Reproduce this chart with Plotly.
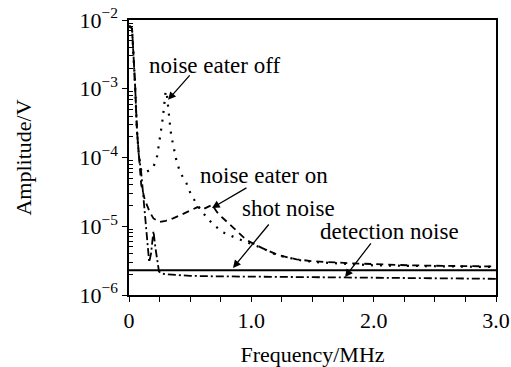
import math
import plotly.graph_objects as go

# ---- data ----
f_off = [0, 0.01, 0.025, 0.04, 0.05, 0.065, 0.08, 0.1, 0.13, 0.17, 0.2, 0.23, 0.245, 0.26, 0.27,
         0.28, 0.29, 0.30, 0.31, 0.32, 0.335, 0.345, 0.36, 0.37, 0.39, 0.42, 0.47, 0.51, 0.6, 0.68,
         0.76, 0.87, 0.96, 1.09, 1.21, 1.4, 1.54, 1.8, 2.0, 2.3, 2.6, 3.0]
v_off = [8e-3, 8e-3, 7.5e-3, 2.6e-3, 1.1e-3, 2.5e-4, 1.1e-4, 6.5e-5, 6.0e-5, 6.6e-5, 7.3e-5, 1.05e-4,
         1.5e-4, 2.2e-4, 3.1e-4, 4.3e-4, 6.2e-4, 9.3e-4, 8e-4, 5.8e-4, 3e-4, 2.1e-4, 1.5e-4, 1.2e-4,
         8.6e-5, 6e-5, 4.2e-5, 2.8e-5, 1.6e-5, 1.1e-5, 8.3e-6, 6.8e-6, 5.9e-6, 4.8e-6, 3.8e-6, 3.2e-6,
         3.0e-6, 2.8e-6, 2.7e-6, 2.65e-6, 2.6e-6, 2.55e-6]

f_on = [0, 0.01, 0.025, 0.04, 0.05, 0.065, 0.08, 0.1, 0.13, 0.17, 0.2, 0.25, 0.3, 0.36, 0.42, 0.5,
        0.56, 0.6, 0.64, 0.68, 0.72, 0.76, 0.83, 0.96, 1.09, 1.22, 1.37, 1.5, 1.8, 2.0, 2.3, 2.6, 3.0]
v_on = [8e-3, 8e-3, 7.5e-3, 2.6e-3, 1.1e-3, 2.5e-4, 1.1e-4, 4e-5, 2.4e-5, 1.6e-5, 1.3e-5, 1.15e-5,
        1.2e-5, 1.3e-5, 1.45e-5, 1.7e-5, 1.9e-5, 1.75e-5, 1.9e-5, 2.05e-5, 1.6e-5, 1.35e-5, 1.04e-5,
        6.3e-6, 4.8e-6, 3.8e-6, 3.3e-6, 3.1e-6, 2.9e-6, 2.8e-6, 2.7e-6, 2.65e-6, 2.6e-6]

f_det = [0, 0.01, 0.025, 0.04, 0.05, 0.065, 0.08, 0.1, 0.12, 0.14, 0.155, 0.165, 0.18, 0.2, 0.215,
         0.23, 0.245, 0.27, 0.3, 0.4, 0.5, 0.7, 1.0, 1.5, 2.0, 2.5, 3.0]
v_det = [8e-3, 8e-3, 7.5e-3, 2.6e-3, 1.1e-3, 2.5e-4, 1.1e-4, 6e-5, 2.5e-5, 1.1e-5, 5e-6, 3e-6, 4e-6,
         8.5e-6, 5e-6, 3e-6, 2.2e-6, 2.05e-6, 2.0e-6, 1.95e-6, 1.9e-6, 1.87e-6, 1.85e-6, 1.8e-6,
         1.78e-6, 1.75e-6, 1.72e-6]

f_shot = [0, 3.0]
v_shot = [2.3e-6, 2.3e-6]

x_tickvals = [0, 0.25, 0.5, 0.75, 1.0, 1.25, 1.5, 1.75, 2.0, 2.25, 2.5, 2.75, 3.0]
x_ticktext = ["0", "", "", "", "1.0", "", "", "", "2.0", "", "", "", "3.0"]
y_tickvals = [1e-6, 1e-5, 1e-4, 1e-3, 1e-2]
y_ticktext = ["10<sup>−6</sup>", "10<sup>−5</sup>", "10<sup>−4</sup>", "10<sup>−3</sup>", "10<sup>−2</sup>"]
y_minorvals = [m * 10.0 ** e for e in range(-6, -2) for m in range(2, 10)]

FONT = "Liberation Serif"

fig = go.Figure()
fig.add_trace(go.Scatter(x=f_off, y=v_off, mode="lines",
                         line=dict(color="black", width=2.2, dash="2px,7px")))
fig.add_trace(go.Scatter(x=f_on, y=v_on, mode="lines",
                         line=dict(color="black", width=1.8, dash="7px,5px")))
fig.add_trace(go.Scatter(x=f_det, y=v_det, mode="lines",
                         line=dict(color="black", width=1.8, dash="8px,3px,2px,3px")))
fig.add_trace(go.Scatter(x=f_shot, y=v_shot, mode="lines",
                         line=dict(color="black", width=2)))

labels = [
    ("noise eater off", 0.695, 2.2e-3),
    ("noise eater on", 1.10, 5.56e-5),
    ("shot noise", 1.30, 1.84e-5),
    ("detection noise", 2.13, 8.5e-6),
]
for txt, lx, ly in labels:
    fig.add_annotation(x=lx, y=math.log10(ly), text=txt, showarrow=False,
                       xanchor="center", yanchor="middle",
                       font=dict(family=FONT, size=23, color="black"))

arrows = [
    (0.319, 6.9e-4, 23, -26),
    (0.678, 1.84e-5, 36, -21),
    (0.85, 2.47e-6, 37, -45),
    (1.766, 1.83e-6, 27, -35),
]
for px_, py_, dx, dy in arrows:
    fig.add_annotation(x=px_, y=math.log10(py_), text="", showarrow=True, ax=dx, ay=dy,
                       arrowhead=2, arrowsize=1.2, arrowwidth=1.3, arrowcolor="black")

fig.update_layout(
    width=511, height=367,
    margin=dict(l=129, r=15, t=20, b=72),
    paper_bgcolor="white", plot_bgcolor="white",
    showlegend=False,
    font=dict(family=FONT, size=21, color="black"),
)
fig.update_xaxes(
    range=[0, 3], showgrid=False, zeroline=False, automargin=False,
    showline=True, linecolor="black", linewidth=1.5, mirror=True,
    ticks="outside", ticklen=5, tickwidth=1.2, tickcolor="black",
    tickvals=x_tickvals, ticktext=x_ticktext,
    tickfont=dict(family=FONT, size=22),
    title=dict(text="Frequency/MHz", font=dict(family=FONT, size=22), standoff=18),
)
fig.update_yaxes(
    type="log", range=[-6, -2], showgrid=False, zeroline=False, automargin=False,
    showline=True, linecolor="black", linewidth=1.5, mirror=True,
    ticks="outside", ticklen=5, tickwidth=1.2, tickcolor="black",
    tickvals=y_tickvals, ticktext=y_ticktext,
    tickfont=dict(family=FONT, size=22),
    minor=dict(ticks="inside", ticklen=4, tickwidth=1, tickcolor="black",
               tickvals=y_minorvals, showgrid=False),
    title=dict(text="Amplitude/V", font=dict(family=FONT, size=22), standoff=42),
)

fig.write_html("out.html")
